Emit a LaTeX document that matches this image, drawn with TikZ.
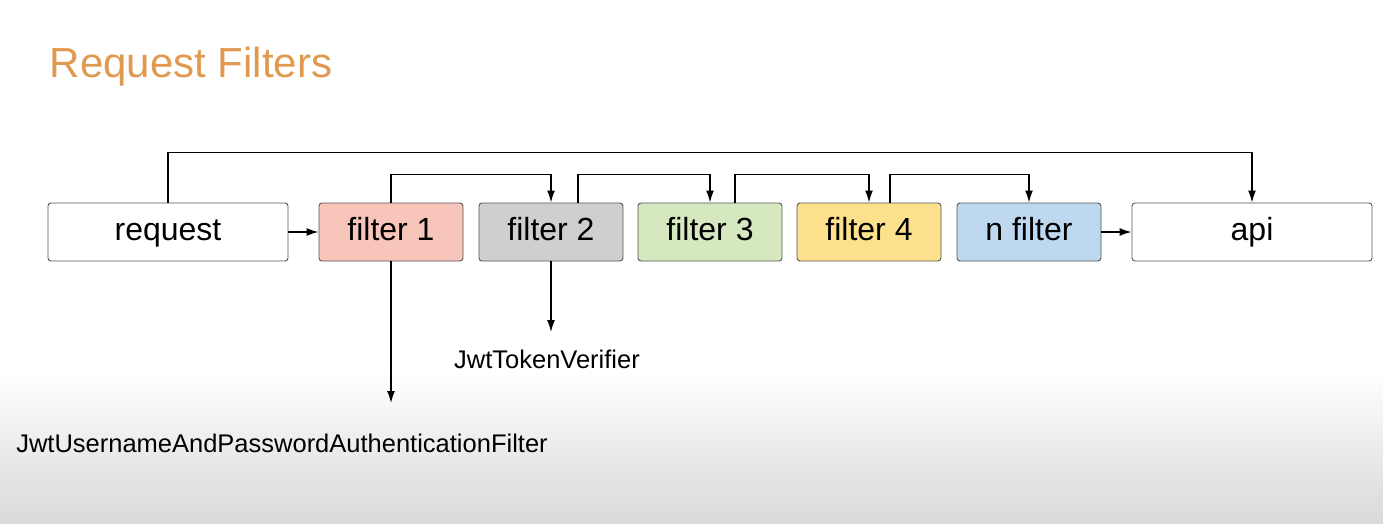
\documentclass[tikz,border=0pt]{standalone}
\usepackage{fontspec}
\setmainfont{Liberation Sans}
\usetikzlibrary{arrows.meta}
\definecolor{titleorange}{HTML}{E0994F}
\definecolor{fltred}{HTML}{F8C5BA}
\definecolor{fltgray}{HTML}{CFCFCF}
\definecolor{fltgreen}{HTML}{D5E8BF}
\definecolor{fltyellow}{HTML}{FDE08B}
\definecolor{fltblue}{HTML}{BED9EF}
\definecolor{boxline}{HTML}{555555}
\tikzset{every path/.style={line width=1.4pt}, stage/.style={draw=boxline, line width=0.9pt, rounded corners=3pt, minimum height=58pt, inner sep=0pt, text height=23pt, text depth=7pt, font=\fontsize{32}{36}\selectfont}, link/.style={-{Latex[length=12pt,width=8pt]}}, note/.style={inner sep=0pt, font=\fontsize{25.5}{30}\selectfont}}

\begin{document}
\begin{tikzpicture}[x=1pt,y=-1pt]
  \useasboundingbox (0,0) rectangle (1383,524);
  \fill[white] (0,0) rectangle (1383,524);
  \shade[top color=white, bottom color=black!15, draw=none] (0,370) rectangle (1383,524);
  \node[anchor=base west, inner sep=0pt, text=titleorange, font=\fontsize{42}{48}\selectfont] (title) at (49,78) {Request Filters};

  \node[stage, fill=white    , minimum width=240pt] (req) at ( 168,232) {request};
  \node[stage, fill=fltred   , minimum width=144pt] (f1)  at ( 391,232) {filter 1};
  \node[stage, fill=fltgray  , minimum width=144pt] (f2)  at ( 551,232) {filter 2};
  \node[stage, fill=fltgreen , minimum width=144pt] (f3)  at ( 710,232) {filter 3};
  \node[stage, fill=fltyellow, minimum width=144pt] (f4)  at ( 869,232) {filter 4};
  \node[stage, fill=fltblue  , minimum width=144pt] (nf)  at (1029,232) {n filter};
  \node[stage, fill=white    , minimum width=240pt] (api) at (1252,232) {api};

  \draw[link] (req.north) -- ++(0,-50) -| (api.north);
  \draw[link] (f1.north) -- ++(0,-28) -| (f2.north);
  \draw[link] ([xshift=27pt]f2.north) -- ++(0,-28) -| (f3.north);
  \draw[link] ([xshift=25pt]f3.north) -- ++(0,-28) -| (f4.north);
  \draw[link] ([xshift=21pt]f4.north) -- ++(0,-28) -| (nf.north);
  \draw[link] (req.east) -- (f1.west);
  \draw[link] (nf.east) -- (api.west);

  \node[note] (auth)   at (282,443) {JwtUsernameAndPasswordAuthenticationFilter};
  \node[note] (verify) at (547,359) {JwtTokenVerifier};
  \coordinate (authend)   at (391,403);
  \coordinate (verifyend) at (551,332);
  \draw[link] (f1.south) -- (authend);
  \draw[link] (f2.south) -- (verifyend);
\end{tikzpicture}
\end{document}
